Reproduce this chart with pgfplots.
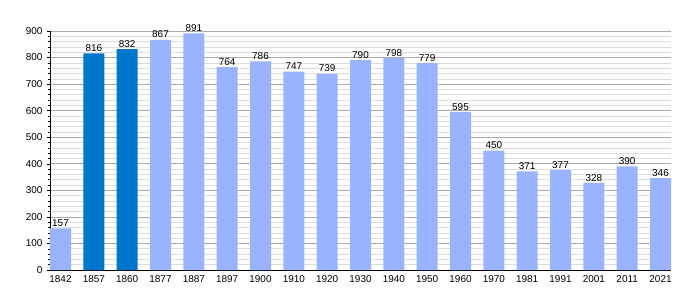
\documentclass[border=0pt]{standalone}
\usepackage{fontspec}
\setmainfont{Liberation Sans}
\usepackage{pgfplots}
\pgfplotsset{compat=1.18}
\definecolor{lightbar}{HTML}{99B3FF}
\definecolor{darkbar}{HTML}{0077CC}
\definecolor{majgrid}{HTML}{ABABAB}
\definecolor{mingrid}{HTML}{DDDDDD}
\begin{document}
\begin{tikzpicture}
\useasboundingbox[fill=white] (0,0) rectangle (700bp,300bp);
\begin{axis}[
  at={(50bp,30bp)}, anchor=south west,
  scale only axis,
  width=621bp, height=239bp,
  xmin=-0.315, xmax=18.315,
  ymin=0, ymax=900,
  ybar, bar width=0.63, bar shift=0pt,
  axis x line*=bottom, axis y line*=left,
  axis line style={black, line width=0.8pt, -},
  xtick={0,...,18},
  xticklabels={1842,1857,1860,1877,1887,1897,1900,1910,1920,1930,1940,1950,1960,1970,1981,1991,2001,2011,2021},
  x tick style={draw=none},
  ytick={0,100,...,900},
  minor y tick num=4,
  y tick style={black, line width=0.5pt},
  major tick length=3bp, minor tick length=2.5bp,
  tick align=outside,
  ymajorgrids, yminorgrids,
  major grid style={majgrid, line width=0.6pt},
  minor grid style={mingrid, line width=0.6pt},
  tick label style={font=\fontsize{10}{12}\selectfont, black},
  /pgf/number format/assume math mode=true,
  /pgf/number format/1000 sep={},
  nodes near coords,
  every node near coord/.append style={font=\fontsize{10}{12}\selectfont, black, inner sep=1.5bp},
  xticklabel style={yshift=1bp},
  yticklabel style={xshift=-1bp},
  clip=false,
]
\addplot[fill=lightbar, draw=none] coordinates {
(0,157) (3,867) (4,891) (5,764) (6,786) (7,747) (8,739) (9,790) (10,798) (11,779) (12,595) (13,450) (14,371) (15,377) (16,328) (17,390) (18,346)
};
\addplot[fill=darkbar, draw=none] coordinates {
(1,816) (2,832)
};
\end{axis}
\end{tikzpicture}
\end{document}
